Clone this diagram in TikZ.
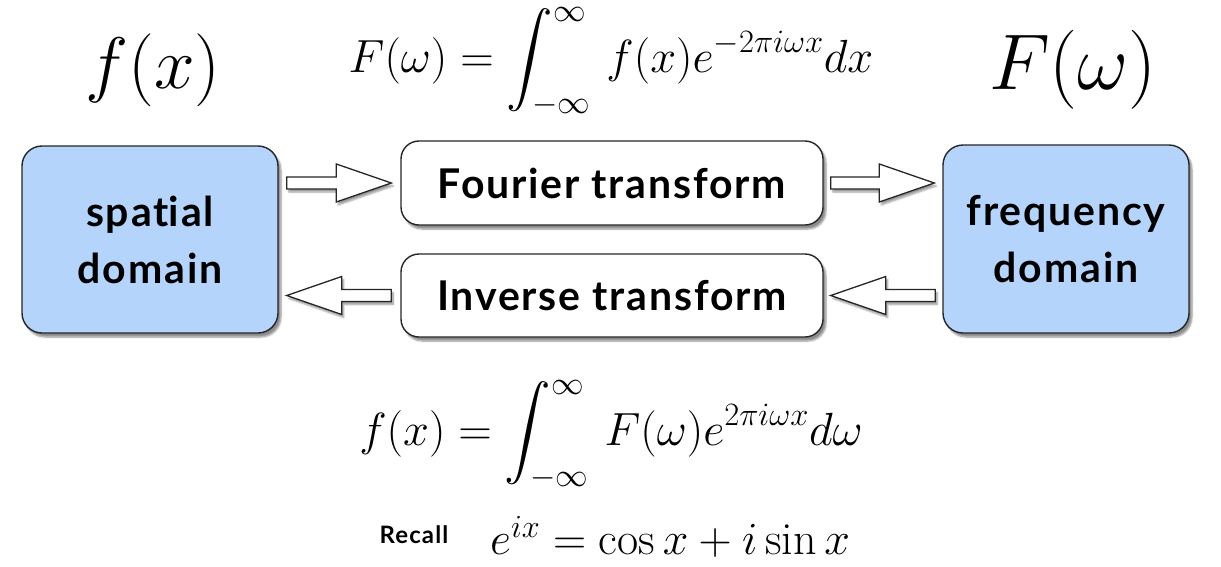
\RequirePackage{fix-cm}
\documentclass[tikz,border=0pt]{standalone}
\usepackage{amsmath}
\DeclareFontShape{OMX}{cmex}{m}{n}{<->cmex10}{}
\usepackage{fontspec}
\newfontfamily\boxfont{Lato}[LetterSpace=4.5, Ligatures={NoCommon,NoRequired,NoContextual}]
\usetikzlibrary{calc,shadows,shadows.blur}
\tikzset{
  boxbase/.style={draw=black!85, line width=1.4pt, align=center, inner sep=0pt,
    font=\boxfont\bfseries\fontsize{41}{57}\selectfont,
    blur shadow={shadow xshift=3pt, shadow yshift=-4pt, shadow blur steps=6, shadow opacity=45}},
  bluebox/.style={boxbase, fill={rgb,255:red,180;green,212;blue,252}, rounded corners=20pt},
  whitebox/.style={boxbase, fill=white, rounded corners=18pt},
  barrow/.style={draw=black!85, fill=white, line width=1.3pt, line join=miter,
    blur shadow={shadow xshift=2pt, shadow yshift=-3pt, shadow blur steps=5, shadow opacity=40}},
  mathmid/.style={inner sep=0pt, font=\fontsize{46.5}{55}\selectfont},
}
% block arrow from #1 to #2 (horizontal), head length 55, half heights 6 / 19
\newcommand\blockarrow[2]{%
  \path[barrow] let \p1=(#1), \p2=(#2), \n1={ifthenelse(\x2>\x1,1,-1)} in
    (\x1,\y1+6pt) -- (\x2-55pt*\n1,\y1+6pt) -- (\x2-55pt*\n1,\y1+19pt) -- (\x2,\y1)
    -- (\x2-55pt*\n1,\y1-19pt) -- (\x2-55pt*\n1,\y1-6pt) -- (\x1,\y1-6pt) -- cycle;}
\begin{document}
\begin{tikzpicture}[x=1pt,y=-1pt]
\useasboundingbox (0,0) rectangle (1221,566);

\node[inner sep=0pt, font=\fontsize{73}{80}\selectfont] (fx) at (153,70) {$f(x)$};
\node[inner sep=0pt, font=\fontsize{79}{86}\selectfont] (Fw) at (1073,70) {$F(\omega)$};
\node[mathmid] (fwd) at (611,62) {$\displaystyle F(\omega)=\int_{-\infty}^{\infty}\, f(x)e^{-2\pi i\omega x}dx$};

\node[bluebox, minimum width=256pt, minimum height=187pt] (sd) at (150,239.5) {spat\kern0pt ial\\domain};
\node[bluebox, minimum width=246pt, minimum height=188pt] (fd) at (1066,239) {frequency\\domain};
\node[whitebox, minimum width=422pt, minimum height=84pt] (ft) at (612,183) {Fourier transform};
\node[whitebox, minimum width=422pt, minimum height=83pt] (it) at (612,295.5) {Inverse transform};

\coordinate (a1s) at ($(sd.east |- ft.west)+(8,0)$);
\coordinate (a1e) at ($(ft.west)+(-9,0)$);
\coordinate (a2s) at ($(ft.east)+(7,0)$);
\coordinate (a2e) at ($(fd.west |- ft.east)+(-8,0)$);
\coordinate (a3s) at ($(fd.west |- it.east)+(-7,0)$);
\coordinate (a3e) at ($(it.east)+(7,0)$);
\coordinate (a4s) at ($(it.west)+(-9,0)$);
\coordinate (a4e) at ($(sd.east |- it.west)+(8,0)$);
\blockarrow{a1s}{a1e}
\blockarrow{a2s}{a2e}
\blockarrow{a3s}{a3e}
\blockarrow{a4s}{a4e}

\node[mathmid] (inv) at (611,435) {$\displaystyle f(x)=\int_{-\infty}^{\infty}\, F(\omega)e^{2\pi i\omega x}d\omega$};
\node[inner sep=0pt, font=\boxfont\bfseries\fontsize{24}{28}\selectfont] (rc) at (414,535) {Recall};
\node[inner sep=0pt, anchor=west, font=\fontsize{46}{52}\selectfont] (eu) at (490,537) {$e^{ix}=\cos x+i\sin x$};
\end{tikzpicture}
\end{document}
